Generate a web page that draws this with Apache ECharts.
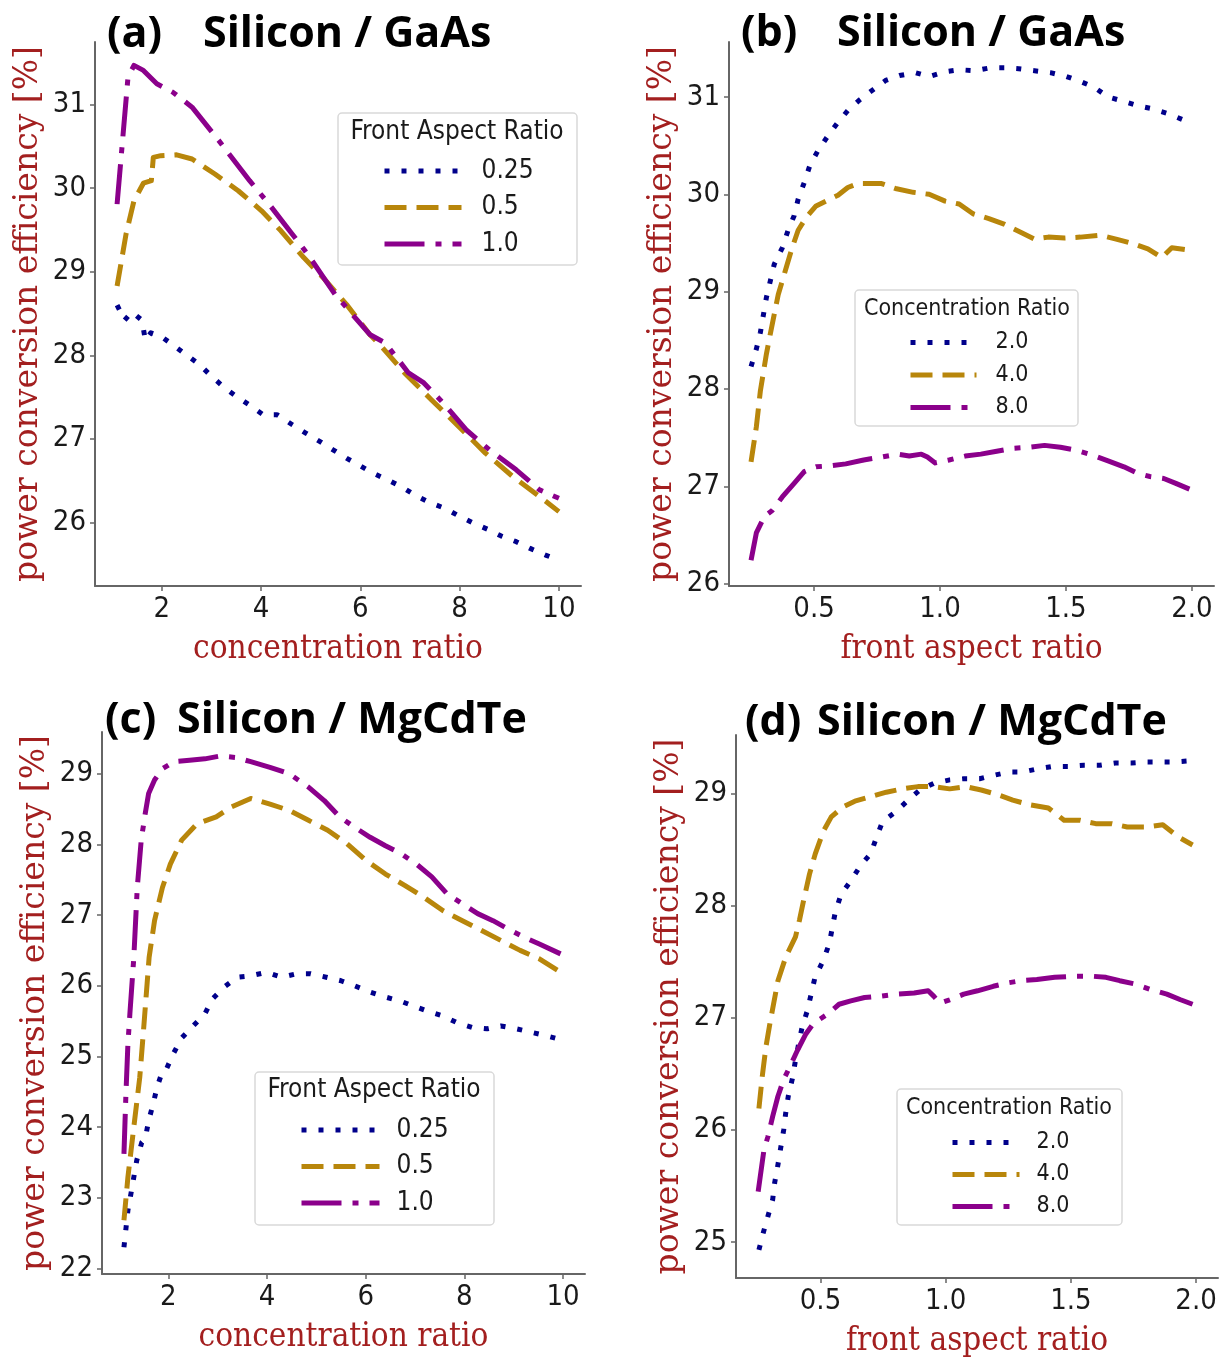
<!DOCTYPE html>
<html><head><meta charset="utf-8">
<script src="https://cdn.jsdelivr.net/npm/echarts@6/dist/echarts.min.js"></script>
<style>html,body{margin:0;padding:0;background:#fff}#c{width:1220px;height:1361px}</style>
</head><body><div id="c"></div>
<script>
// ---------- panel (a): Silicon / GaAs vs concentration ratio ----------
const aBlueX = [1.1, 1.25, 1.4, 1.6, 1.67, 1.78, 1.98, 2.26, 2.53, 2.76, 3.0, 3.27, 3.5, 3.78, 4.04, 4.32, 4.63, 4.9, 5.18, 5.45, 5.72, 5.99, 6.26, 6.58, 6.85, 7.12, 7.39, 7.7, 7.98, 8.25, 8.56, 8.83, 9.14, 9.42, 9.73, 10.0];
const aBlueY = [28.6, 28.42, 28.52, 28.42, 28.18, 28.27, 28.23, 28.11, 27.99, 27.89, 27.75, 27.61, 27.51, 27.4, 27.29, 27.29, 27.17, 27.07, 26.97, 26.87, 26.77, 26.68, 26.59, 26.5, 26.42, 26.32, 26.24, 26.17, 26.08, 26.0, 25.92, 25.84, 25.77, 25.69, 25.61, 25.55];
const aGoldX = [1.1, 1.28, 1.44, 1.63, 1.79, 1.83, 1.98, 2.3, 2.61, 3.07, 3.54, 4.01, 4.4, 4.86, 5.25, 5.72, 6.19, 6.42, 6.89, 7.43, 7.98, 8.52, 9.07, 9.61, 10.0];
const aGoldY = [28.83, 29.45, 29.85, 30.06, 30.09, 30.37, 30.39, 30.4, 30.35, 30.17, 29.97, 29.73, 29.49, 29.17, 28.93, 28.61, 28.25, 28.11, 27.79, 27.47, 27.15, 26.83, 26.55, 26.31, 26.13];
const aPurpX = [1.1, 1.32, 1.44, 1.63, 1.9, 2.22, 2.61, 3.15, 3.77, 4.16, 4.63, 4.94, 5.49, 6.19, 6.5, 6.97, 7.28, 7.67, 8.13, 8.6, 9.14, 9.61, 10.0];
const aPurpY = [29.81, 31.33, 31.47, 31.41, 31.25, 31.15, 30.97, 30.57, 30.09, 29.81, 29.45, 29.21, 28.73, 28.25, 28.15, 27.79, 27.67, 27.43, 27.11, 26.87, 26.63, 26.39, 26.29];

// ---------- panel (b): Silicon / GaAs vs front aspect ratio ----------
const bBlueX = [0.25, 0.271, 0.287, 0.311, 0.342, 0.374, 0.397, 0.421, 0.437, 0.461, 0.484, 0.516, 0.555, 0.595, 0.634, 0.681, 0.737, 0.784, 0.839, 0.902, 0.957, 1.02, 1.076, 1.139, 1.2, 1.257, 1.312, 1.375, 1.438, 1.502, 1.557, 1.612, 1.667, 1.722, 1.786, 1.841, 1.904, 1.97];
const bBlueY = [28.23, 28.41, 28.58, 28.94, 29.28, 29.45, 29.63, 29.78, 29.95, 30.12, 30.3, 30.45, 30.6, 30.74, 30.86, 30.97, 31.08, 31.17, 31.22, 31.25, 31.21, 31.26, 31.28, 31.27, 31.3, 31.3, 31.29, 31.27, 31.25, 31.21, 31.16, 31.1, 31.0, 30.96, 30.91, 30.88, 30.83, 30.76];
const bGoldX = [0.25, 0.271, 0.287, 0.311, 0.326, 0.358, 0.39, 0.413, 0.437, 0.468, 0.508, 0.555, 0.595, 0.634, 0.673, 0.721, 0.768, 0.823, 0.894, 0.957, 1.02, 1.076, 1.131, 1.194, 1.257, 1.32, 1.375, 1.43, 1.494, 1.557, 1.636, 1.699, 1.77, 1.825, 1.88, 1.92, 1.98];
const bGoldY = [27.25, 27.61, 27.98, 28.36, 28.56, 28.97, 29.25, 29.45, 29.63, 29.76, 29.88, 29.94, 29.99, 30.07, 30.11, 30.11, 30.11, 30.06, 30.02, 30.0, 29.93, 29.9, 29.8, 29.75, 29.69, 29.61, 29.54, 29.56, 29.55, 29.56, 29.58, 29.54, 29.49, 29.44, 29.35, 29.45, 29.43];
const bPurpX = [0.25, 0.271, 0.303, 0.334, 0.374, 0.421, 0.461, 0.508, 0.563, 0.626, 0.697, 0.768, 0.831, 0.878, 0.926, 0.95, 0.981, 1.036, 1.1, 1.162, 1.225, 1.288, 1.35, 1.415, 1.478, 1.54, 1.604, 1.667, 1.73, 1.786, 1.833, 1.888, 1.936, 1.99];
const bPurpY = [26.24, 26.52, 26.69, 26.75, 26.89, 27.03, 27.15, 27.2, 27.21, 27.23, 27.27, 27.3, 27.33, 27.31, 27.33, 27.3, 27.24, 27.27, 27.31, 27.33, 27.36, 27.39, 27.4, 27.42, 27.4, 27.37, 27.32, 27.26, 27.2, 27.13, 27.1, 27.08, 27.03, 26.97];

// ---------- panel (c): Silicon / MgCdTe vs concentration ratio ----------
const cBlueX = [1.1, 1.14, 1.18, 1.24, 1.3, 1.36, 1.46, 1.53, 1.6, 1.69, 1.77, 1.88, 1.96, 2.11, 2.27, 2.5, 2.74, 2.89, 3.13, 3.4, 3.67, 3.99, 4.3, 4.61, 4.88, 5.2, 5.5, 5.77, 6.09, 6.4, 6.71, 6.98, 7.25, 7.57, 7.84, 8.16, 8.46, 8.74, 9.05, 9.36, 9.67, 10.0];
const cBlueY = [22.3, 22.56, 22.82, 23.05, 23.29, 23.53, 23.78, 23.83, 24.09, 24.32, 24.56, 24.79, 24.82, 25.05, 25.26, 25.43, 25.6, 25.81, 25.98, 26.12, 26.14, 26.19, 26.12, 26.17, 26.17, 26.12, 26.07, 26.0, 25.91, 25.84, 25.78, 25.71, 25.64, 25.57, 25.48, 25.41, 25.39, 25.43, 25.39, 25.34, 25.29, 25.23];
const cGoldX = [1.1, 1.18, 1.3, 1.42, 1.5, 1.61, 1.72, 1.88, 2.04, 2.27, 2.58, 2.97, 3.28, 3.67, 4.06, 4.45, 4.84, 5.23, 5.62, 6.01, 6.4, 6.79, 7.18, 7.57, 7.96, 8.35, 8.74, 9.13, 9.52, 10.0];
const cGoldY = [22.68, 23.29, 24.0, 24.7, 25.4, 26.4, 26.92, 27.39, 27.72, 28.06, 28.29, 28.39, 28.53, 28.65, 28.57, 28.48, 28.34, 28.2, 28.01, 27.77, 27.58, 27.42, 27.25, 27.06, 26.92, 26.78, 26.64, 26.5, 26.38, 26.17];
const cPurpX = [1.1, 1.14, 1.18, 1.22, 1.3, 1.37, 1.45, 1.53, 1.6, 1.72, 1.88, 2.11, 2.43, 2.74, 3.05, 3.36, 3.67, 4.06, 4.45, 4.84, 5.16, 5.47, 5.78, 6.09, 6.4, 6.71, 7.03, 7.34, 7.65, 7.96, 8.27, 8.58, 8.89, 9.2, 9.52, 9.95];
const cPurpY = [23.62, 24.47, 25.17, 25.6, 26.4, 27.39, 28.06, 28.43, 28.72, 28.91, 29.07, 29.17, 29.19, 29.21, 29.25, 29.23, 29.17, 29.09, 29.0, 28.81, 28.62, 28.39, 28.24, 28.1, 27.98, 27.87, 27.72, 27.54, 27.3, 27.16, 27.02, 26.92, 26.8, 26.69, 26.59, 26.45];

// ---------- panel (d): Silicon / MgCdTe vs front aspect ratio ----------
const dBlueX = [0.254, 0.271, 0.29, 0.309, 0.317, 0.33, 0.341, 0.353, 0.361, 0.372, 0.388, 0.4, 0.413, 0.427, 0.447, 0.478, 0.511, 0.535, 0.558, 0.582, 0.621, 0.661, 0.7, 0.724, 0.748, 0.803, 0.85, 0.897, 0.953, 1.016, 1.072, 1.135, 1.19, 1.253, 1.308, 1.371, 1.426, 1.489, 1.552, 1.615, 1.678, 1.741, 1.804, 1.86, 1.915, 1.978];
const dBlueY = [24.93, 25.08, 25.23, 25.38, 25.53, 25.69, 25.84, 26.0, 26.15, 26.31, 26.46, 26.62, 26.77, 26.92, 27.06, 27.36, 27.51, 27.66, 27.93, 28.1, 28.22, 28.36, 28.46, 28.61, 28.75, 28.84, 28.94, 29.03, 29.09, 29.12, 29.13, 29.13, 29.16, 29.19, 29.19, 29.22, 29.24, 29.24, 29.25, 29.25, 29.27, 29.27, 29.28, 29.28, 29.28, 29.29];
const dGoldX = [0.254, 0.267, 0.282, 0.298, 0.33, 0.361, 0.4, 0.416, 0.432, 0.456, 0.479, 0.511, 0.543, 0.59, 0.637, 0.7, 0.763, 0.826, 0.889, 0.953, 1.016, 1.08, 1.142, 1.205, 1.268, 1.331, 1.41, 1.473, 1.536, 1.599, 1.662, 1.725, 1.804, 1.867, 1.93, 1.986];
const dGoldY = [26.19, 26.47, 26.74, 26.95, 27.33, 27.54, 27.72, 27.87, 28.04, 28.28, 28.46, 28.66, 28.79, 28.88, 28.93, 28.97, 29.01, 29.04, 29.06, 29.06, 29.04, 29.06, 29.03, 28.99, 28.94, 28.9, 28.87, 28.76, 28.76, 28.73, 28.73, 28.7, 28.7, 28.72, 28.61, 28.54];
const dPurpX = [0.251, 0.274, 0.29, 0.309, 0.33, 0.353, 0.377, 0.408, 0.44, 0.472, 0.527, 0.574, 0.621, 0.676, 0.732, 0.803, 0.874, 0.93, 0.953, 0.977, 1.016, 1.072, 1.127, 1.19, 1.246, 1.301, 1.364, 1.435, 1.514, 1.584, 1.64, 1.695, 1.757, 1.82, 1.883, 1.938, 1.986];
const dPurpY = [25.45, 25.82, 25.94, 26.12, 26.3, 26.45, 26.56, 26.71, 26.85, 26.95, 27.03, 27.12, 27.15, 27.18, 27.19, 27.21, 27.22, 27.24, 27.19, 27.13, 27.16, 27.21, 27.24, 27.28, 27.31, 27.33, 27.34, 27.36, 27.37, 27.37, 27.36, 27.33, 27.3, 27.25, 27.21, 27.16, 27.12];

// ---------- labels / ticks ----------
const concTicks = [2, 4, 6, 8, 10];
const farTicks = [0.5, 1.0, 1.5, 2.0];
const aYTicks = [26, 27, 28, 29, 30, 31];
const bYTicks = [26, 27, 28, 29, 30, 31];
const cYTicks = [22, 23, 24, 25, 26, 27, 28, 29];
const dYTicks = [25, 26, 27, 28, 29];
const farNames = ['0.25', '0.5', '1.0'];
const concNames = ['2.0', '4.0', '8.0'];
const panelTitles = ['Silicon / GaAs', 'Silicon / GaAs', 'Silicon / MgCdTe', 'Silicon / MgCdTe'];
const panelTags = ['(a)', '(b)', '(c)', '(d)'];
const xNames = ['concentration ratio', 'front aspect ratio', 'concentration ratio', 'front aspect ratio'];
const yName = 'power conversion efficiency [%]';
const legendTitles = ['Front Aspect Ratio', 'Concentration Ratio', 'Front Aspect Ratio', 'Concentration Ratio'];

// ---------- styles ----------
const SANS = '"DejaVu Sans Condensed", "Liberation Sans Narrow", "DejaVu Sans", sans-serif';
const SERIF = '"DejaVu Serif Condensed", "DejaVu Serif", serif';
const SERIF_V = '"DejaVu Serif", serif';
const TITLEF = '"Open Sans", "Lato", sans-serif';
const RED = '#a31f1f';
const AXC = '#666';
const BLUE = '#00008b', GOLD = '#b8860b', PURP = '#8b008b';
const DOT = [5, 12], DASH = [22, 10], DASHDOT = [40, 11, 6, 11];

const zip = (xs, ys) => xs.map((x, i) => [x, ys[i]]);

const grids = [
  {left: 95, top: 42, width: 486, height: 544},
  {left: 729, top: 42, width: 485, height: 544},
  {left: 102, top: 732, width: 483, height: 542},
  {left: 736, top: 735, width: 482, height: 543}
];
const xRanges = [[0.655, 10.445], [0.1625, 2.0875], [0.655, 10.445], [0.1625, 2.0875]];
const yRanges = [[25.24, 31.75], [25.975, 31.565], [21.92, 29.59], [24.68, 29.52]];
const yTicksAll = [aYTicks, bYTicks, cYTicks, dYTicks];
const xTicksAll = [concTicks, farTicks, concTicks, farTicks];

const xAxis = grids.map((g, i) => ({
  type: 'value', gridIndex: i, min: xRanges[i][0], max: xRanges[i][1],
  name: xNames[i], nameLocation: 'middle', nameGap: 47,
  nameTextStyle: {fontFamily: SERIF, fontSize: 33, color: RED},
  axisLine: {show: true, lineStyle: {color: AXC, width: 2}},
  axisTick: {show: true, length: 5, lineStyle: {color: AXC, width: 1.5}, customValues: xTicksAll[i]},
  axisLabel: {customValues: xTicksAll[i], margin: 9, fontFamily: SANS, fontSize: 29, color: '#1a1a1a',
    formatter: v => (i % 2 === 1 ? Number(v).toFixed(1) : String(v))},
  splitLine: {show: false}
}));
const yAxis = grids.map((g, i) => ({
  type: 'value', gridIndex: i, min: yRanges[i][0], max: yRanges[i][1],
  name: yName, nameLocation: 'middle', nameGap: 50, nameRotate: 90,
  nameTextStyle: {fontFamily: SERIF_V, fontSize: 33, color: RED},
  axisLine: {show: true, lineStyle: {color: AXC, width: 2}},
  axisTick: {show: true, length: 5, lineStyle: {color: AXC, width: 1.5}, customValues: yTicksAll[i]},
  axisLabel: {customValues: yTicksAll[i], margin: 9, fontFamily: SANS, fontSize: 29, color: '#1a1a1a',
    formatter: v => String(Math.round(v))},
  splitLine: {show: false}
}));

function mk(name, idx, xs, ys, color, dash) {
  return {name, type: 'line', xAxisIndex: idx, yAxisIndex: idx, data: zip(xs, ys),
    symbol: 'none', smooth: false, animation: false, clip: false,
    lineStyle: {color, width: 5, type: dash, cap: 'butt', join: 'round'}, itemStyle: {color}};
}
const series = [
  mk('0.25', 0, aBlueX, aBlueY, BLUE, DOT),
  mk('0.5', 0, aGoldX, aGoldY, GOLD, DASH),
  mk('1.0', 0, aPurpX, aPurpY, PURP, DASHDOT),
  mk('2.0', 1, bBlueX, bBlueY, BLUE, DOT),
  mk('4.0', 1, bGoldX, bGoldY, GOLD, DASH),
  mk('8.0', 1, bPurpX, bPurpY, PURP, DASHDOT),
  mk('0.25', 2, cBlueX, cBlueY, BLUE, DOT),
  mk('0.5', 2, cGoldX, cGoldY, GOLD, DASH),
  mk('1.0', 2, cPurpX, cPurpY, PURP, DASHDOT),
  mk('2.0', 3, dBlueX, dBlueY, BLUE, DOT),
  mk('4.0', 3, dGoldX, dGoldY, GOLD, DASH),
  mk('8.0', 3, dPurpX, dPurpY, PURP, DASHDOT)
];

// legend layout per panel
const legBoxes = [
  {x: 338, y: 113, w: 239, h: 152, tx: 457, ty: 132, fs: 26, lx: 382, ly: 158, iw: 77, pitch: 36.5, tfs: 26, pad: 15},
  {x: 855, y: 290, w: 223, h: 136, tx: 967, ty: 309, fs: 23, lx: 908, ly: 331, iw: 66, pitch: 32.5, tfs: 23, pad: 14},
  {x: 255, y: 1072, w: 239, h: 153, tx: 374, ty: 1090, fs: 26, lx: 299, ly: 1117, iw: 78, pitch: 36.5, tfs: 26, pad: 12},
  {x: 897, y: 1089, w: 225, h: 136, tx: 1009, ty: 1108, fs: 23, lx: 950, ly: 1131, iw: 67, pitch: 32, tfs: 23, pad: 12}
];
const legend = legBoxes.map((b, i) => ({
  data: i % 2 === 0 ? farNames : concNames,
  orient: 'vertical', left: b.lx, top: b.ly, padding: 0,
  itemWidth: b.iw, itemHeight: 12, itemGap: b.pitch - b.fs,
  selectedMode: false, z: 10,
  lineStyle: {width: 5},
  itemStyle: {opacity: 0, borderWidth: 0},
  textStyle: {fontFamily: SANS, fontSize: b.tfs, lineHeight: b.fs, color: '#1a1a1a', padding: [0, 0, 0, b.pad]}
}));

const graphic = [];
legBoxes.forEach((b, i) => {
  graphic.push({type: 'rect', z: 8, shape: {x: b.x, y: b.y, width: b.w, height: b.h, r: 4},
    style: {fill: 'rgba(255,255,255,0.85)', stroke: '#d9d9d9', lineWidth: 1.5}});
  graphic.push({type: 'text', z: 9, x: b.tx, y: b.ty,
    style: {text: legendTitles[i], fontFamily: SANS, fontSize: b.tfs, fill: '#1a1a1a', align: 'center', verticalAlign: 'middle'}});
});
const titlePos = [
  {tx: 107, sx: 203, y: 35},
  {tx: 741, sx: 837, y: 34},
  {tx: 105, sx: 177, y: 721},
  {tx: 745, sx: 817, y: 723}
];
titlePos.forEach((p, i) => {
  graphic.push({type: 'text', z: 9, x: p.tx, y: p.y,
    style: {text: panelTags[i], fontFamily: TITLEF, fontWeight: 'bold', fontSize: 43, fill: '#000', align: 'left', verticalAlign: 'middle'}});
  graphic.push({type: 'text', z: 9, x: p.sx, y: p.y,
    style: {text: panelTitles[i], fontFamily: TITLEF, fontWeight: 'bold', fontSize: 43, fill: '#000', align: 'left', verticalAlign: 'middle'}});
});

const chart = echarts.init(document.getElementById('c'), null, {renderer: 'canvas'});
chart.setOption({
  backgroundColor: '#fff',
  animation: false,
  grid: grids.map(g => Object.assign({containLabel: false, outerBoundsMode: 'none'}, g)),
  xAxis, yAxis, series, legend, graphic
});
</script></body></html>
